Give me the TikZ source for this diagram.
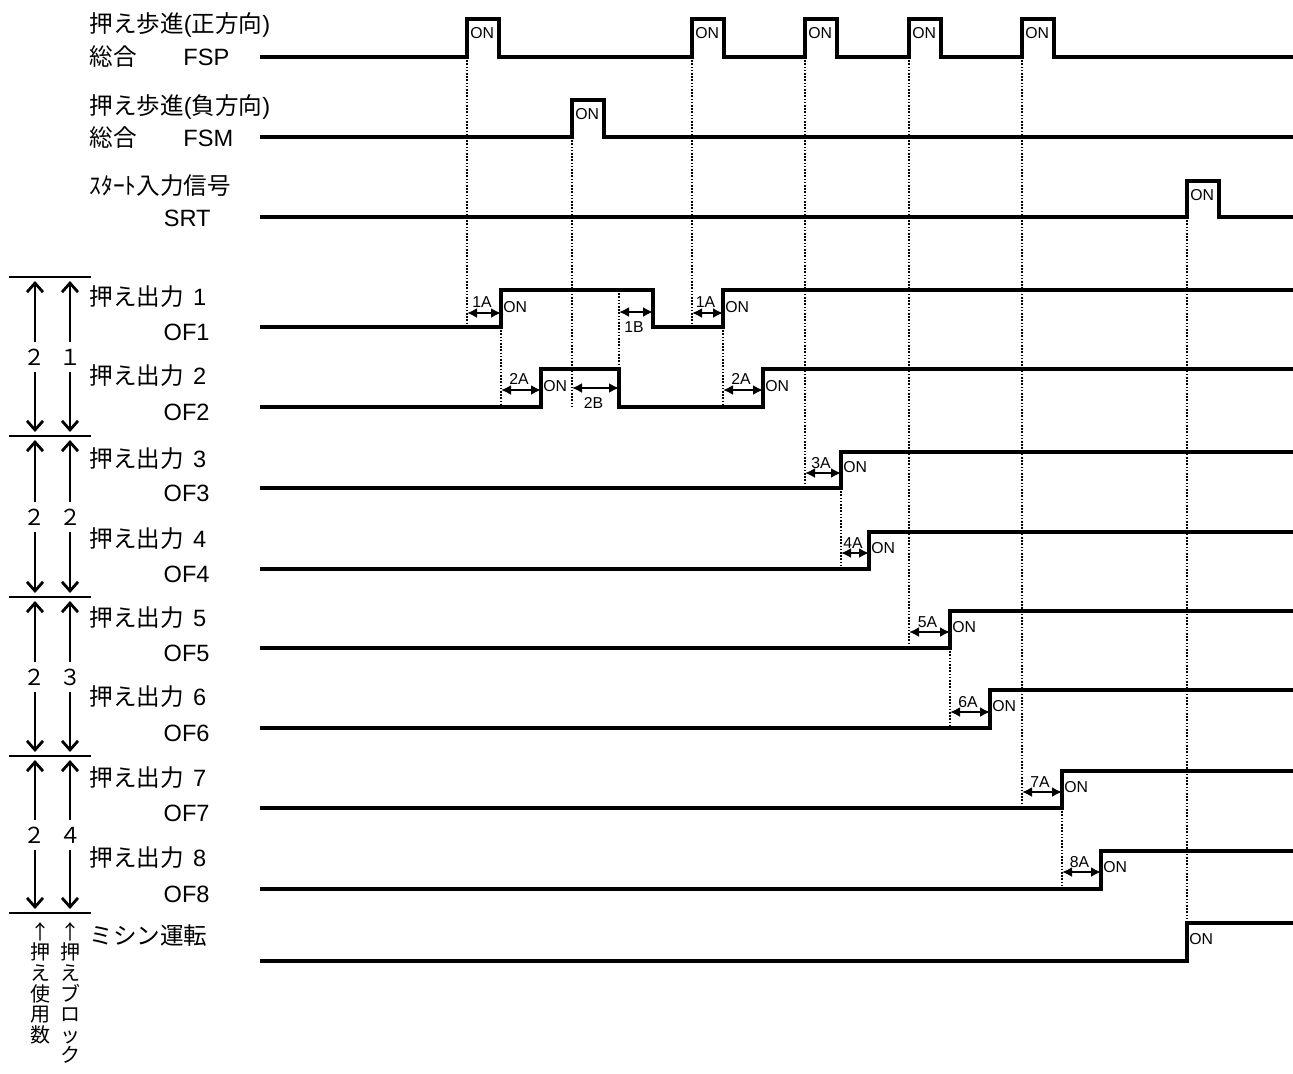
\documentclass[tikz,border=0pt]{standalone}
\usepackage{fontspec}
\setmainfont{Liberation Sans}
\newfontfamily\tdjp{Noto Sans CJK JP}
\usetikzlibrary{arrows.meta, positioning, calc}
\definecolor{tdInk}{HTML}{000000}
\newcommand{\jp}[1]{{\tdjp #1}}
\tikzset{
  tdsig/.style={draw=tdInk, line width=1.6pt},
  tdguide/.style={draw=tdInk, line width=0.85pt, dash pattern=on 0.8pt off 0.8pt},
  tdgap/.style={
    {Latex[length=5pt, width=5pt]}-{Latex[length=5pt, width=5pt]},
    draw=tdInk, line width=1.2pt,
  },
  tdcount/.style={
    -{Straight Barb[length=4.5pt, width=8pt]}, draw=tdInk, line width=1.4pt,
  },
  tdrule/.style={draw=tdInk, line width=1pt},
  tdlbl/.style={inner sep=0pt, text=tdInk, font=\fontsize{11.8}{14}\selectfont},
  tdtag/.style={inner sep=0pt, text=tdInk, font=\fontsize{7.9}{9}\selectfont},
  tdnum/.style={inner sep=0pt, text=tdInk, font=\tdjp\fontsize{11}{12}\selectfont},
  tdvert/.style={
    inner sep=0pt, text=tdInk, align=center, anchor=north,
    font=\tdjp\fontsize{10}{10.3}\selectfont,
  },
}
% delay arrow between two edges, with its tag
\newcommand{\tdspan}[6]{%
  \coordinate (#1a) at (#2,#4);%
  \coordinate (#1b) at (#3,#4);%
  \draw[tdgap] (#1a) -- (#1b);%
  \node[tdtag] (#1t) at ($(#1a)!0.5!(#1b)+(-2,#6)$) {#5};%
}

\begin{document}
\begin{tikzpicture}[x=0.5pt, y=-0.5pt]
\useasboundingbox (0,0) rectangle (1293,1073);

% Guides ------------------------------------------------------------------
\foreach \gx/\ga/\gb in {467/57/327, 501/327/407, 572/137/407, 619/290/369,
    692/57/327, 723/327/407, 805/57/488, 841/488/569, 909/57/648,
    950/648/728, 1022/57/808, 1062/808/889, 1187/217/923}{%
  \draw[tdguide] (\gx,\ga) -- (\gx,\gb);
}

% Inputs ------------------------------------------------------------------
\node[tdlbl, anchor=west] (fspA) at (89,25) {\jp{押え歩進}(\jp{正方向})};
\node[tdlbl, anchor=west] (fspB) at (89,57) {\jp{総合}};
\node[tdlbl, anchor=west] (fspC) at (183,57) {FSP};
\draw[tdsig] (260,57) foreach \x in {467,692,805,909,1022}{
  -- (\x,57) -- (\x,19) -- (\x+32,19) -- (\x+32,57) } -- (1293,57);
\foreach \x in {467,692,805,909,1022}
  \node[tdtag, anchor=west] (fspOn\x) at (\x+3,33) {ON};

\node[tdlbl, anchor=west] (fsmA) at (89,107) {\jp{押え歩進}(\jp{負方向})};
\node[tdlbl, anchor=west] (fsmB) at (89,138) {\jp{総合}};
\node[tdlbl, anchor=west] (fsmC) at (183,138) {FSM};
\draw[tdsig] (260,137) -- (572,137) -- (572,100) -- (604,100) -- (604,137)
  -- (1293,137);
\node[tdtag, anchor=west] (fsmOn) at (575,114) {ON};

\node[tdlbl, anchor=west] (srtA) at (89,186) {\jp{ｽﾀｰﾄ入力信号}};
\node[tdlbl, anchor=east] (srtB) at (211,218) {SRT};
\draw[tdsig] (260,217) -- (1187,217) -- (1187,181) -- (1219,181) -- (1219,217)
  -- (1293,217);
\node[tdtag, anchor=west] (srtOn) at (1190,195) {ON};

% Outputs -----------------------------------------------------------------
\foreach \k/\lo/\hi in {1/327/290, 2/407/369, 3/488/452, 4/569/532,
    5/648/611, 6/728/690, 7/808/771, 8/889/851}{%
  \node[tdlbl, anchor=west] (outA\k) at (89,\hi+7) {\jp{押え出力}\hspace{0.4em}\k};
  \node[tdlbl, anchor=east] (outB\k) at (210,\lo+5) {OF\k};
}
\node[tdlbl, anchor=west] (misA) at (89,936) {\jp{ミシン運転}};

\draw[tdsig] (260,327) -- (501,327) -- (501,290) -- (653,290) -- (653,327)
  -- (723,327) -- (723,290) -- (1293,290);
\draw[tdsig] (260,407) -- (541,407) -- (541,369) -- (619,369) -- (619,407)
  -- (763,407) -- (763,369) -- (1293,369);
\foreach \lo/\hi/\x in {488/452/841, 569/532/869, 648/611/950, 728/690/990,
    808/771/1062, 889/851/1101, 961/923/1187}{%
  \draw[tdsig] (260,\lo) -- (\x,\lo) -- (\x,\hi) -- (1293,\hi);
}
\foreach \x/\y in {501/307, 723/307, 541/386, 763/386, 841/467, 869/548,
    950/627, 990/706, 1062/787, 1101/867, 1187/939}
  \node[tdtag, anchor=west] (on\x) at (\x+2,\y) {ON};

% Delays ------------------------------------------------------------------
\tdspan{dA}{467}{501}{313}{1A}{-11}
\tdspan{dB}{619}{653}{312}{1B}{15}
\tdspan{dC}{501}{541}{390}{2A}{-11}
\tdspan{dD}{572}{619}{388}{2B}{15}
\tdspan{dE}{692}{723}{313}{1A}{-11}
\tdspan{dF}{723}{763}{390}{2A}{-11}
\tdspan{dG}{805}{841}{473}{3A}{-10}
\tdspan{dH}{841}{869}{553}{4A}{-10}
\tdspan{dI}{909}{950}{632}{5A}{-10}
\tdspan{dJ}{950}{990}{712}{6A}{-10}
\tdspan{dK}{1022}{1062}{792}{7A}{-10}
\tdspan{dL}{1062}{1101}{872}{8A}{-10}

% Blocks ------------------------------------------------------------------
\foreach \y in {277,436,597,756,913}
  \draw[tdrule] (9,\y) -- (91,\y);
\foreach \t/\b/\m/\blk in {277/436/357/１, 436/597/517/２, 597/756/677/３,
    756/913/835/４}{%
  \foreach \cx/\num in {35/２, 70/\blk}{%
    \node[tdnum] (cnt\cx-\m) at (\cx,\m) {\num};
    \draw[tdcount] (\cx,\m-15) -- (\cx,\t+4);
    \draw[tdcount] (\cx,\m+15) -- (\cx,\b-4);
  }
}
\node[tdvert] (useN) at (40,922) {↑\\押\\え\\使\\用\\数};
\node[tdvert] (blkN) at (70,922) {↑\\押\\え\\ブ\\ロ\\ッ\\ク};

\end{tikzpicture}
\end{document}
